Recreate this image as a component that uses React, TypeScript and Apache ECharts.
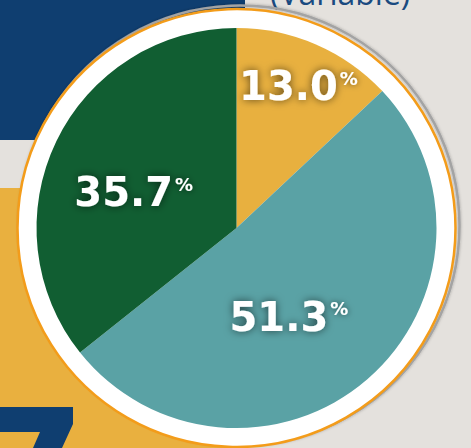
import React, { useEffect, useRef } from "react";
import * as echarts from "echarts";

const categories = ["Segment A", "Segment B", "Segment C"];
const values = [13.0, 51.3, 35.7];
const sliceColors = ["#e8b03f", "#5aa2a5", "#115e32"];
const titleText = "(Variable)";

// label nudges relative to ECharts' default "inside" position (layout, not data)
const labelOffsets: [number, number][] = [
  [21, -47],
  [-15, 11],
  [-10, 9],
];

export default function App() {
  const ref = useRef<HTMLDivElement>(null);
  useEffect(() => {
    if (!ref.current) return;
    const chart = echarts.init(ref.current, null, { renderer: "svg" });
    const cx = 236.5;
    const cy = 228;
    chart.setOption({
      animation: false,
      backgroundColor: "#e4e1dd",
      graphic: [
        { type: "rect", z: 0, shape: { x: 0, y: 0, width: 245, height: 140 }, style: { fill: "#0f3e70" } },
        { type: "rect", z: 0, shape: { x: 0, y: 188, width: 240, height: 260 }, style: { fill: "#e9b03f" } },
        {
          type: "polygon",
          z: 0,
          shape: { points: [[0, 407], [73, 407], [73, 424], [62, 448], [33, 448], [40, 432], [0, 432]] },
          style: { fill: "#0f3e70" },
        },
        {
          type: "text",
          z: 1,
          x: 270,
          y: 8,
          style: {
            text: titleText,
            font: "32px 'Open Sans', sans-serif",
            fill: "#1a4a80",
            verticalAlign: "bottom",
            align: "left",
          },
        },
        {
          type: "circle",
          z: 1,
          shape: { cx: cx + 3, cy: cy - 2.5, r: 220 },
          style: { fill: "none", stroke: "#a3a3a3", lineWidth: 2.5, shadowBlur: 3, shadowColor: "rgba(0,0,0,0.3)" },
        },
        {
          type: "circle",
          z: 1,
          shape: { cx, cy, r: 219 },
          style: { fill: "#ffffff", stroke: "#f39c1a", lineWidth: 2.5 },
        },
      ],
      series: [
        {
          type: "pie",
          z: 5,
          center: [cx, cy],
          radius: [0, 200],
          startAngle: 90,
          clockwise: true,
          silent: true,
          labelLine: { show: false },
          data: categories.map((name, i) => ({
            name,
            value: values[i],
            itemStyle: { color: sliceColors[i] },
            label: { offset: labelOffsets[i] },
          })),
          label: {
            show: true,
            position: "inside",
            formatter: (p: any) => `{v|${p.value.toFixed(1)}}{p|%}`,
            textShadowColor: "rgba(0,0,0,0.6)",
            textShadowBlur: 8,
            rich: {
              v: {
                fontFamily: "'DejaVu Sans', sans-serif",
                fontWeight: "bold",
                fontSize: 40,
                lineHeight: 40,
                color: "#ffffff",
                textShadowColor: "rgba(0,0,0,0.6)",
                textShadowBlur: 8,
              },
              p: {
                fontFamily: "'DejaVu Sans', sans-serif",
                fontWeight: "bold",
                fontSize: 18,
                lineHeight: 18,
                verticalAlign: "top",
                padding: [3, 0, 0, 2],
                color: "#ffffff",
                textShadowColor: "rgba(0,0,0,0.6)",
                textShadowBlur: 6,
              },
            },
          },
        },
      ],
    });
    return () => chart.dispose();
  }, []);
  return (
    <div
      ref={ref}
      style={{ position: "fixed", left: 0, top: 0, width: 471, height: 448 }}
    />
  );
}
